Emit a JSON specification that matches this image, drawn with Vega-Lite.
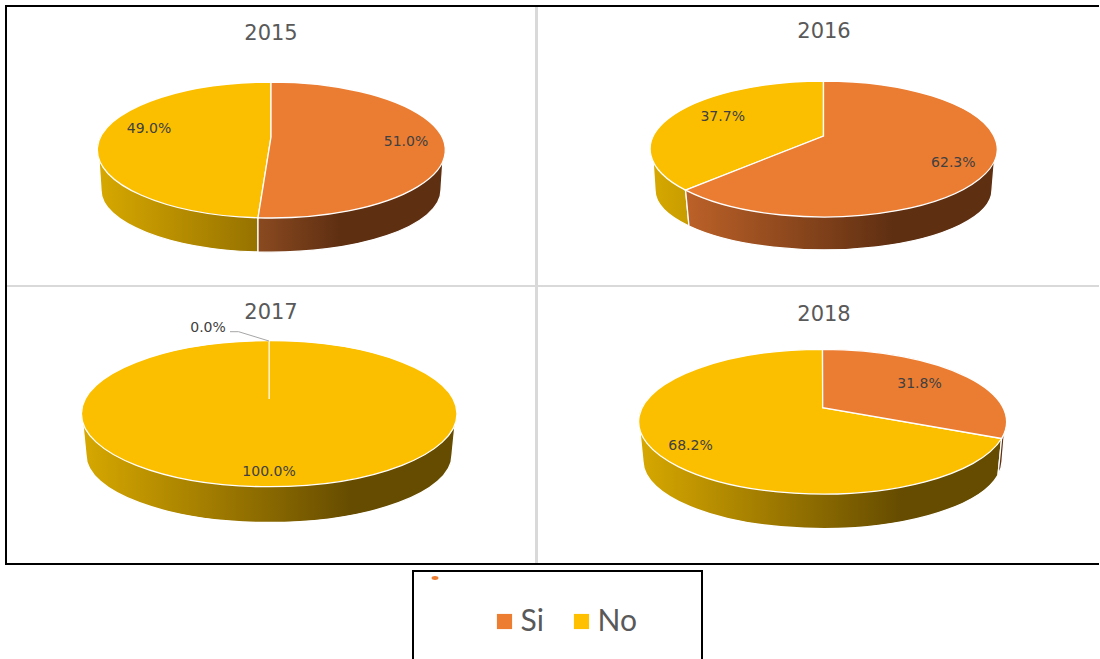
{
"$schema":"https://vega.github.io/schema/vega-lite/v6.json",
"padding":{"left":5,"top":5,"right":0,"bottom":0},
"background":"white",
"data":{"values":[
{"year":2015,"category":"Si","share":0.51},{"year":2015,"category":"No","share":0.49},
{"year":2016,"category":"Si","share":0.623},{"year":2016,"category":"No","share":0.377},
{"year":2017,"category":"Si","share":0.0},{"year":2017,"category":"No","share":1.0},
{"year":2018,"category":"Si","share":0.318},{"year":2018,"category":"No","share":0.682}
]},
"config":{"view":{"stroke":null},"concat":{"spacing":0},
"point":{"size":4,"opacity":1,"filled":true},
"text":{"font":"DejaVu Sans","fontSize":14,"color":"#404040","baseline":"middle","align":"center"}},
"spacing":5,
"vconcat":[
{"spacing":0,"vconcat":[
{"spacing":0,"hconcat":[
{"width":533,"height":282,"transform":[{"filter":"datum.year==2015"}],"layer":[
{"transform":[{"filter":"datum.category=='Si'"}],"mark":{"type":"point","clip":true,"filled":false,"stroke":"#D9D9D9","strokeWidth":3,"shape":"M-266.5 140.5 L265 140.5 L265 -141"}},
{"transform":[{"filter":"datum.category=='Si'"}],"mark":{"type":"point","clip":true,"filled":false,"stroke":"#000000","strokeWidth":2,"shape":"M-265.5 141 L-265.5 -140 L266.5 -140"}},
{"transform":[{"filter":"datum.category=='No'"}],"mark":{"type":"point","stroke":"#FFFFFF","strokeWidth":1.3,"fill":{"gradient":"linear","x1":0,"x2":1,"y1":0,"y2":0,"stops":[{"offset":0,"color":"#D7A800"},{"offset":1,"color":"#967200"}]},"shape":"M-172.5 14 L-170.5 44 A170 62 0 0 0 -13.5 106 L-13.5 71.8 Z"}},
{"transform":[{"filter":"datum.category=='Si'"}],"mark":{"type":"point","stroke":"#FFFFFF","strokeWidth":1.3,"fill":{"gradient":"linear","x1":0,"x2":1,"y1":0,"y2":0,"stops":[{"offset":0,"color":"#8A4A20"},{"offset":0.44,"color":"#5F2F12"},{"offset":1,"color":"#5F2F12"}]},"shape":"M-13.5 71.8 L-13.5 106 A170 62 0 0 0 169.5 44 L171.5 14 Z"}},
{"transform":[{"filter":"datum.category=='No'"}],"mark":{"type":"point","stroke":"#FFFFFF","strokeWidth":1.3,"fill":"#FBBF00","shape":"M-0.5 -9 L-13.5 71.8 A174 68 0 0 1 -0.5 -64 Z"}},
{"transform":[{"filter":"datum.category=='Si'"}],"mark":{"type":"point","stroke":"#FFFFFF","strokeWidth":1.3,"fill":"#EB7D33","shape":"M-0.5 -9 L-0.5 -64 A174 68 0 1 1 -13.5 71.8 Z"}},
{"transform":[{"filter":"datum.category=='No'"}],"mark":{"type":"text","dx":-122.5,"dy":-17},"encoding":{"text":{"field":"share","type":"quantitative","format":".1%"}}},
{"transform":[{"filter":"datum.category=='Si'"}],"mark":{"type":"text","dx":134.5,"dy":-4},"encoding":{"text":{"field":"share","type":"quantitative","format":".1%"}}},
{"transform":[{"filter":"datum.category=='Si'"}],"mark":{"type":"text","dx":-0.5,"dy":-112,"fontSize":21,"color":"#595959"},"encoding":{"text":{"field":"year","type":"nominal"}}}
]},
{"width":561,"height":282,"transform":[{"filter":"datum.year==2016"}],"layer":[
{"transform":[{"filter":"datum.category=='Si'"}],"mark":{"type":"point","clip":true,"filled":false,"stroke":"#D9D9D9","strokeWidth":3,"shape":"M-280.5 140.5 L280.5 140.5"}},
{"transform":[{"filter":"datum.category=='Si'"}],"mark":{"type":"point","clip":true,"filled":false,"stroke":"#000000","strokeWidth":2,"shape":"M-280.5 -140 L280.5 -140"}},
{"transform":[{"filter":"datum.category=='No'"}],"mark":{"type":"point","stroke":"#FFFFFF","strokeWidth":1.3,"fill":{"gradient":"linear","x1":0,"x2":1,"y1":0,"y2":0,"stops":[{"offset":0,"color":"#D7A800"},{"offset":1,"color":"#C79C00"}]},"shape":"M-165.5 14 L-163.5 44 A168.5 60 0 0 0 -129.5 80 L-132.9 44.2 Z"}},
{"transform":[{"filter":"datum.category=='Si'"}],"mark":{"type":"point","stroke":"#FFFFFF","strokeWidth":1.3,"fill":{"gradient":"linear","x1":0,"x2":1,"y1":0,"y2":0,"stops":[{"offset":0,"color":"#BC6128"},{"offset":0.67,"color":"#5F2F12"},{"offset":1,"color":"#5F2F12"}]},"shape":"M-132.9 44.2 L-129.5 80 A168.5 60 0 0 0 173.5 44 L176 14 Z"}},
{"transform":[{"filter":"datum.category=='No'"}],"mark":{"type":"point","stroke":"#FFFFFF","strokeWidth":1.3,"fill":"#FBBF00","shape":"M5 -10 L-132.9 44.2 A173.5 68 0 0 1 5 -65 Z"}},
{"transform":[{"filter":"datum.category=='Si'"}],"mark":{"type":"point","stroke":"#FFFFFF","strokeWidth":1.3,"fill":"#EB7D33","shape":"M5 -10 L5 -65 A173.5 68 0 1 1 -132.9 44.2 Z"}},
{"transform":[{"filter":"datum.category=='No'"}],"mark":{"type":"text","dx":-95.8,"dy":-28.7},"encoding":{"text":{"field":"share","type":"quantitative","format":".1%"}}},
{"transform":[{"filter":"datum.category=='Si'"}],"mark":{"type":"text","dx":134.8,"dy":17.3},"encoding":{"text":{"field":"share","type":"quantitative","format":".1%"}}},
{"transform":[{"filter":"datum.category=='Si'"}],"mark":{"type":"text","dx":5.5,"dy":-114.3,"fontSize":21,"color":"#595959"},"encoding":{"text":{"field":"year","type":"nominal"}}}
]}
]},
{"spacing":0,"hconcat":[
{"width":533,"height":278,"transform":[{"filter":"datum.year==2017"}],"layer":[
{"transform":[{"filter":"datum.category=='Si'"}],"mark":{"type":"point","clip":true,"filled":false,"stroke":"#D9D9D9","strokeWidth":3,"shape":"M265 -139 L265 139"}},
{"transform":[{"filter":"datum.category=='Si'"}],"mark":{"type":"point","clip":true,"filled":false,"stroke":"#000000","strokeWidth":2,"shape":"M-265.5 -139 L-265.5 138 L266.5 138"}},
{"transform":[{"filter":"datum.category=='No'"}],"mark":{"type":"point","stroke":"#FFFFFF","strokeWidth":1.3,"fill":{"gradient":"linear","x1":0,"x2":1,"y1":0,"y2":0,"stops":[{"offset":0,"color":"#D7A800"},{"offset":0.72,"color":"#664C00"},{"offset":1,"color":"#664C00"}]},"shape":"M-188.5 -1 L-185.5 29 A183 67.5 0 0 0 180.5 29 L183.5 -1 Z"}},
{"transform":[{"filter":"datum.category=='No'"}],"mark":{"type":"point","stroke":"#FFFFFF","strokeWidth":1.3,"fill":"#FBBF00","shape":"M-2.3 -85.3 A187.8 73 0 1 1 -2.3 60.7 A187.8 73 0 1 1 -2.3 -85.3 Z"}},
{"transform":[{"filter":"datum.category=='Si'"}],"mark":{"type":"point","filled":false,"stroke":"#FFF4D0","strokeWidth":1.5,"shape":"M-2.3 -85 L-2.3 -27"}},
{"transform":[{"filter":"datum.category=='Si'"}],"mark":{"type":"point","filled":false,"stroke":"#A6A6A6","strokeWidth":1,"shape":"M-41.5 -94.3 L-32.9 -94.3 L-2.5 -85"}},
{"transform":[{"filter":"datum.category=='Si'"}],"mark":{"type":"text","dx":-63.5,"dy":-98},"encoding":{"text":{"field":"share","type":"quantitative","format":".1%"}}},
{"transform":[{"filter":"datum.category=='No'"}],"mark":{"type":"text","dx":-2.5,"dy":46},"encoding":{"text":{"field":"share","type":"quantitative","format":".1%"}}},
{"transform":[{"filter":"datum.category=='Si'"}],"mark":{"type":"text","dx":-0.5,"dy":-113.5,"fontSize":21,"color":"#595959"},"encoding":{"text":{"field":"year","type":"nominal"}}}
]},
{"width":561,"height":278,"transform":[{"filter":"datum.year==2018"}],"layer":[
{"transform":[{"filter":"datum.category=='Si'"}],"mark":{"type":"point","clip":true,"filled":false,"stroke":"#000000","strokeWidth":2,"shape":"M-280.5 138 L280.5 138"}},
{"transform":[{"filter":"datum.category=='No'"}],"mark":{"type":"point","stroke":"#FFFFFF","strokeWidth":1.3,"fill":{"gradient":"linear","x1":0,"x2":1,"y1":0,"y2":0,"stops":[{"offset":0,"color":"#D7A800"},{"offset":0.72,"color":"#664C00"},{"offset":1,"color":"#664C00"}]},"shape":"M-178.5 5.7 L-175.5 35.7 A179.5 67.8 0 0 0 179.5 49 L183.1 12.5 Z"}},
{"transform":[{"filter":"datum.category=='Si'"}],"mark":{"type":"point","stroke":"#FFFFFF","strokeWidth":1.3,"fill":"#5F2F12","shape":"M183.1 12.5 L179.5 49 A179.5 67.8 0 0 0 183.5 35.7 L186 6 Z"}},
{"transform":[{"filter":"datum.category=='No'"}],"mark":{"type":"point","stroke":"#FFFFFF","strokeWidth":1.3,"fill":"#FBBF00","shape":"M4.2 -18.3 L183.1 12.5 A184 72.4 0 1 1 4 -76.7 Z"}},
{"transform":[{"filter":"datum.category=='Si'"}],"mark":{"type":"point","stroke":"#FFFFFF","strokeWidth":1.3,"fill":"#EB7D33","shape":"M4.2 -18.3 L4 -76.7 A184 72.4 0 0 1 183.1 12.5 Z"}},
{"transform":[{"filter":"datum.category=='No'"}],"mark":{"type":"text","dx":-128,"dy":20.3},"encoding":{"text":{"field":"share","type":"quantitative","format":".1%"}}},
{"transform":[{"filter":"datum.category=='Si'"}],"mark":{"type":"text","dx":101,"dy":-41.7},"encoding":{"text":{"field":"share","type":"quantitative","format":".1%"}}},
{"transform":[{"filter":"datum.category=='Si'"}],"mark":{"type":"text","dx":5.5,"dy":-111.2,"fontSize":21,"color":"#595959"},"encoding":{"text":{"field":"year","type":"nominal"}}}
]}
]}
]},
{"width":1094,"height":89,"transform":[{"filter":"datum.year==2015 && datum.category=='Si'"}],"layer":[
{"mark":{"type":"point","clip":true,"filled":false,"stroke":"#000000","strokeWidth":2,"shape":"M-139 46 L-139 -43.5 L150 -43.5 L150 46"}},
{"mark":{"type":"point","stroke":null,"shape":"M-120.5 -36.5 A3.5 2 0 1 1 -113.5 -36.5 A3.5 2 0 1 1 -120.5 -36.5 Z"},
"encoding":{"color":{"field":"category","type":"nominal","scale":{"domain":["Si","No"],"range":["#ED7D31","#FFC000"]},
"legend":{"title":null,"orient":"none","legendX":484.5,"legendY":601.5,"direction":"horizontal","columns":2,"symbolType":"square","symbolSize":230,"symbolStrokeWidth":0,"symbolOpacity":1,"labelFont":"Lato","labelFontSize":30,"labelColor":"#595959","labelOffset":1,"columnPadding":22,"padding":0,"labelLimit":0}}}}
]}
]
}
